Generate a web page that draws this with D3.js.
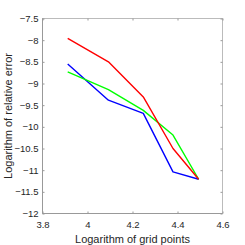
<!DOCTYPE html>
<html><head><meta charset="utf-8">
<script src="https://cdn.jsdelivr.net/npm/d3@7"></script>
<style>body{margin:0;background:#fff}svg{display:block}</style>
</head><body>
<script>
const gridLog = [3.912, 4.093, 4.248, 4.380, 4.494];
const redErr = [-7.96, -8.50, -9.31, -10.50, -11.21];
const blueErr = [-8.55, -9.385, -9.69, -11.04, -11.21];
const greenErr = [-8.73, -9.14, -9.62, -10.19, -11.21];
const xTicks = [3.8, 4, 4.2, 4.4, 4.6];
const yTicks = [-7.5, -8, -8.5, -9, -9.5, -10, -10.5, -11, -11.5, -12];
const seriesList = [
  {name: "blue", values: blueErr, color: "#0000ff"},
  {name: "green", values: greenErr, color: "#00ff00"},
  {name: "red", values: redErr, color: "#ff0000"}
];

const W = 245, H = 245;
const m = {left: 42.5, right: 222.5, top: 18.5, bottom: 213.5};
const svg = d3.select("body").append("svg").attr("width", W).attr("height", H);
const x = d3.scaleLinear().domain([3.8, 4.6]).range([m.left, m.right]);
const y = d3.scaleLinear().domain([-12, -7.5]).range([m.bottom, m.top]);
const font = "Liberation Sans, Arial, sans-serif";
const axisCol = "#999";
const textCol = "#262626";

svg.append("rect").attr("x", m.left).attr("y", m.top)
  .attr("width", m.right - m.left).attr("height", m.bottom - m.top)
  .attr("fill", "none").attr("stroke", "#bbb").attr("stroke-width", 1);

function styleAxis(g) {
  g.select(".domain").remove();
  g.selectAll(".tick line").attr("stroke", axisCol);
  g.selectAll(".tick text").attr("fill", textCol).style("font-family", font).style("font-size", "9.5px");
}
svg.append("g").attr("transform", `translate(0,${m.bottom})`)
  .call(d3.axisBottom(x).tickValues(xTicks).tickFormat(d3.format("")).tickSizeInner(-2).tickSizeOuter(0).tickPadding(8))
  .call(styleAxis);
svg.append("g").attr("transform", `translate(0,${m.top})`)
  .call(d3.axisTop(x).tickValues(xTicks).tickFormat("").tickSizeInner(-2).tickSizeOuter(0))
  .call(styleAxis);
svg.append("g").attr("transform", `translate(${m.left},0)`)
  .call(d3.axisLeft(y).tickValues(yTicks).tickFormat(d3.format("")).tickSizeInner(-2).tickSizeOuter(0).tickPadding(4))
  .call(styleAxis);
svg.append("g").attr("transform", `translate(${m.right},0)`)
  .call(d3.axisRight(y).tickValues(yTicks).tickFormat("").tickSizeInner(-2).tickSizeOuter(0))
  .call(styleAxis);

svg.append("line").attr("x1", m.left).attr("x2", m.left).attr("y1", m.top).attr("y2", m.bottom).attr("stroke", axisCol);
svg.append("line").attr("x1", m.left).attr("x2", m.right).attr("y1", m.bottom).attr("y2", m.bottom).attr("stroke", axisCol);

const line = d3.line().x((d, i) => x(gridLog[i])).y(d => y(d));
svg.selectAll("path.series").data(seriesList).enter().append("path")
  .attr("class", "series")
  .attr("d", d => line(d.values))
  .attr("fill", "none").attr("stroke", d => d.color).attr("stroke-width", 1.4)
  .attr("stroke-linejoin", "round");

svg.append("text").attr("x", (m.left + m.right) / 2).attr("y", 243)
  .attr("text-anchor", "middle").attr("fill", textCol)
  .style("font-family", font).style("font-size", "11px")
  .text("Logarithm of grid points");
svg.append("text").attr("transform", `translate(12,${(m.top + m.bottom) / 2}) rotate(-90)`)
  .attr("text-anchor", "middle").attr("fill", textCol)
  .style("font-family", font).style("font-size", "11px")
  .text("Logarithm of relative error");
</script>
</body></html>
